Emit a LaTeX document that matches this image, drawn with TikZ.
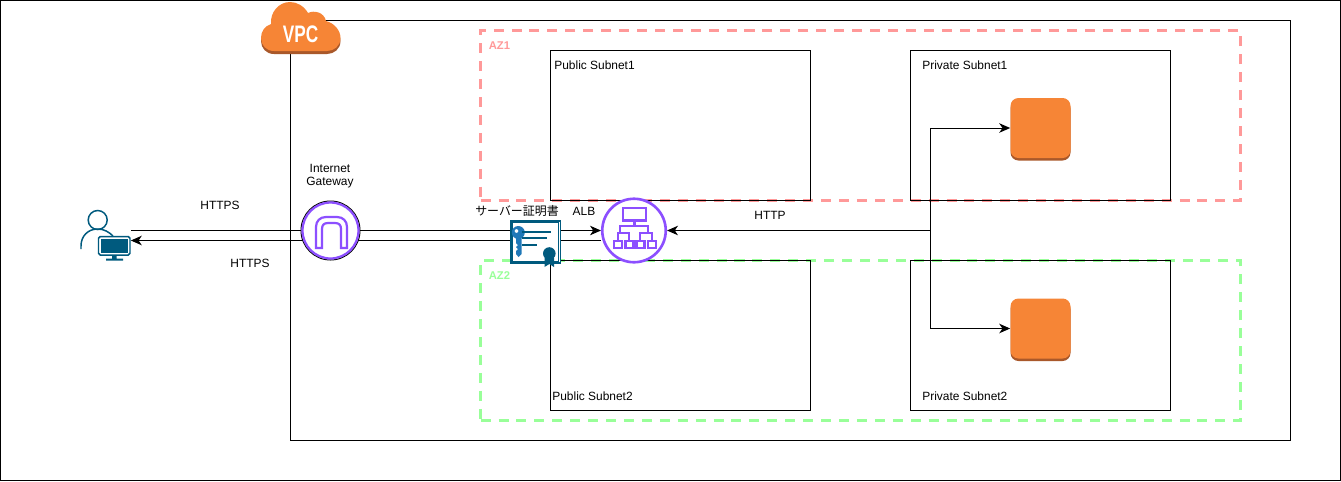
\documentclass[tikz,border=0pt]{standalone}
\usepackage{fontspec}
\setmainfont{Liberation Sans}
\newfontfamily\cjk{Noto Sans CJK JP}
\usetikzlibrary{arrows.meta,backgrounds}
\definecolor{awsorange}{HTML}{F68536}
\definecolor{awsshade}{HTML}{A9582A}
\definecolor{awspurple}{HTML}{8C4FFF}
\definecolor{awsteal}{HTML}{005A7E}
\definecolor{awsblue}{HTML}{1F78B8}
\definecolor{azred}{HTML}{FF9999}
\definecolor{azgreen}{HTML}{99FF99}
\newcommand{\cloudshape}{(274,51) .. controls (266,51) and (261,45) .. (261,38) .. controls (261,31) and (265,26) .. (271,24) .. controls (270,12) and (279,2) .. (290,2) .. controls (297,2) and (304,6) .. (308,13) .. controls (314,10) and (324,12) .. (326,21) .. controls (334,23) and (340.5,30) .. (340.5,38) .. controls (340.5,46) and (334,51) .. (327,51) -- cycle}
\begin{document}
\begin{tikzpicture}[x=0.02cm,y=-0.02cm,
  font=\fontsize{6.8pt}{8pt}\selectfont,
  box/.style={draw=black,line width=0.57pt,inner sep=0pt,outer sep=0pt},
  subnet/.style={box,minimum width=5.2cm,minimum height=3cm},
  az/.style={line width=1.7pt,dash pattern=on 5.7pt off 4.5pt,inner sep=0pt,outer sep=0pt,minimum width=15.2cm},
  txt/.style={inner sep=0pt,align=center},
  lbl/.style={txt,anchor=west},
  azlbl/.style={lbl,font=\fontsize{6.4pt}{8pt}\selectfont\bfseries},
  ec2/.style={fill=awsorange,rounded corners=4.5pt,minimum size=1.2cm,inner sep=0pt},
  ec2s/.style={ec2,fill=awsshade},
  link/.style={line width=0.57pt},
  arr/.style={link,-{Stealth[length=6.2pt,width=5.4pt,inset=1.8pt]}},
  ring/.style={circle,fill=white,inner sep=0pt},
  ic/.style={draw=awspurple,line width=1.25pt},
  ict/.style={draw=awsteal,line width=0.85pt}]
  \useasboundingbox (0,0) rectangle (1341,481);
  % frames, behind everything
  \begin{scope}[on background layer]
    \node[box,minimum width=26.8cm,minimum height=9.6cm] (page) at (670.5,240.5) {};
    \node[box,minimum width=20cm,minimum height=8.4cm] (vpc) at (790.5,230.5) {};
    \node[az,draw=azred,minimum height=3.4cm] (az1) at (860.5,115.5) {};
    \node[az,draw=azgreen,minimum height=3.2cm] (az2) at (860.5,340.5) {};
    \node[subnet] (pub1) at (680.5,125.5) {};
    \node[subnet] (pub2) at (680.5,335.5) {};
    \node[subnet] (pri1) at (1040.5,125.5) {};
    \node[subnet] (pri2) at (1040.5,335.5) {};
  \end{scope}
  % labels
  \node[azlbl,text=azred] (az1l) at (488.5,46) {AZ1};
  \node[azlbl,text=azgreen] (az2l) at (488.5,276) {AZ2};
  \node[lbl] (pub1l) at (554,65) {Public Subnet1};
  \node[lbl] (pub2l) at (552,396) {Public Subnet2};
  \node[lbl] (pri1l) at (922,65) {Private Subnet1};
  \node[lbl] (pri2l) at (922,396) {Private Subnet2};
  \node[txt] (igwl) at (330,176) {Internet\\[-0.5pt]Gateway};
  \node[txt] (certl) at (517,211) {\cjk サーバー証明書};
  \node[txt] (albl) at (584,211) {ALB};
  \node[txt] (https1) at (220,205) {HTTPS};
  \node[txt] (https2) at (250,263) {HTTPS};
  \node[txt] (http) at (770,215) {HTTP};
  % vpc cloud
  \fill[awsshade,yshift=-0.06cm] \cloudshape;
  \fill[awsorange] \cloudshape;
  \node[txt,text=white,font=\fontsize{13.6pt}{14pt}\selectfont\bfseries] (vpcl) at (300.5,34.5) {\scalebox{.72}[1]{VPC}};
  % user
  \node[inner sep=0pt,minimum width=1.02cm,minimum height=1cm] (user) at (105,235) {};
  \draw[ict] (97.7,220) circle (9.5);
  \draw[ict] (81,249) -- (81,246) .. controls (81,236) and (88,229) .. (97.7,229) .. controls (104,229) and (109,232) .. (113,236);
  \draw[ict,fill=white,rounded corners=1pt] (98.5,236.5) rectangle (130,255);
  \fill[awsteal] (101,239) rectangle (127.5,252.5);
  \fill[awsteal] (112,255) rectangle (116.5,259) (106,258.5) rectangle (123,260.5);
  % internet gateway
  \node[ring,draw=black,line width=0.57pt,minimum size=1.18cm] (igw) at (330.5,230.5) {};
  \draw[awspurple,line width=1.3pt] (igw) circle (28);
  \draw[ic] (316,248) -- (316,227) .. controls (316,221) and (320,217) .. (326,217) -- (337,217) .. controls (343,217) and (347,221) .. (347,227) -- (347,248) -- (341,248) -- (341,229) .. controls (341,225) and (339,223) .. (335,223) -- (328,223) .. controls (324,223) and (322,225) .. (322,229) -- (322,248) -- cycle;
  % alb
  \node[ring,draw=awspurple,line width=1.5pt,minimum size=1.27cm] (alb) at (634,230.5) {};
  \draw[ic] (623,208) rectangle (646,220.5);
  \draw[ic] (634.5,220.5) -- (634.5,226) (620,233) -- (620,226) -- (648,226) -- (648,233);
  \draw[ic] (618,241) -- (618,233) -- (629,233) -- (629,241) (640,241) -- (640,233) -- (652,233) -- (652,241);
  \foreach \k in {614,625.5,636.5,648} \draw[ic] (\k,241) rectangle +(8,7);
  % certificate
  \node[box,draw=awsteal,line width=0.85pt,fill=white,minimum width=0.99cm,minimum height=0.84cm] (cert) at (535.5,242) {};
  \draw[awsteal,line width=0.3pt] (512.5,222.5) rectangle (558.5,261.5);
  \fill[awsblue,even odd rule] (518.3,232.5) circle (6.5) (516.5,231) circle (2);
  \fill[awsblue] (516,237) -- (521.5,237) -- (521.5,254) -- (518.5,257) -- (516,254) -- (516,251) -- (518,249) -- (516,247) -- (518,245) -- (516,243) -- cycle;
  \draw[ict,line width=1.1pt] (522,231.7) -- (551,231.7) (522,238) -- (547,238) (522,245) -- (537,245);
  \fill[awsteal] (544.5,258) -- (544.5,267) -- (549.3,264) -- (554,267) -- (554,258) -- cycle;
  \fill[awsteal] (549.3,253.5) circle (6.3);
  % ec2 instances
  \node[ec2s] (ec2as) at (1040.5,130.5) {};
  \node[ec2] (ec2a) at (1040.5,128) {};
  \node[ec2s] (ec2bs) at (1040.5,331) {};
  \node[ec2] (ec2b) at (1040.5,328.5) {};
  % connectors
  \coordinate (hub) at (930.5,230.5);
  \coordinate (ret) at (601,240.5);
  \begin{scope}[on background layer]
    \draw[arr] (user.east |- hub) -- (alb.west |- hub);
    \draw[arr] (alb.west |- ret) -- (user.east |- ret);
    \draw[arr] (hub) -- (alb.east |- hub);
    \draw[link] (hub |- ec2a) -- (hub |- ec2b);
    \draw[arr] (hub |- ec2a) -- (ec2a.west);
    \draw[arr] (hub |- ec2b) -- (ec2b.west);
  \end{scope}
\end{tikzpicture}
\end{document}
